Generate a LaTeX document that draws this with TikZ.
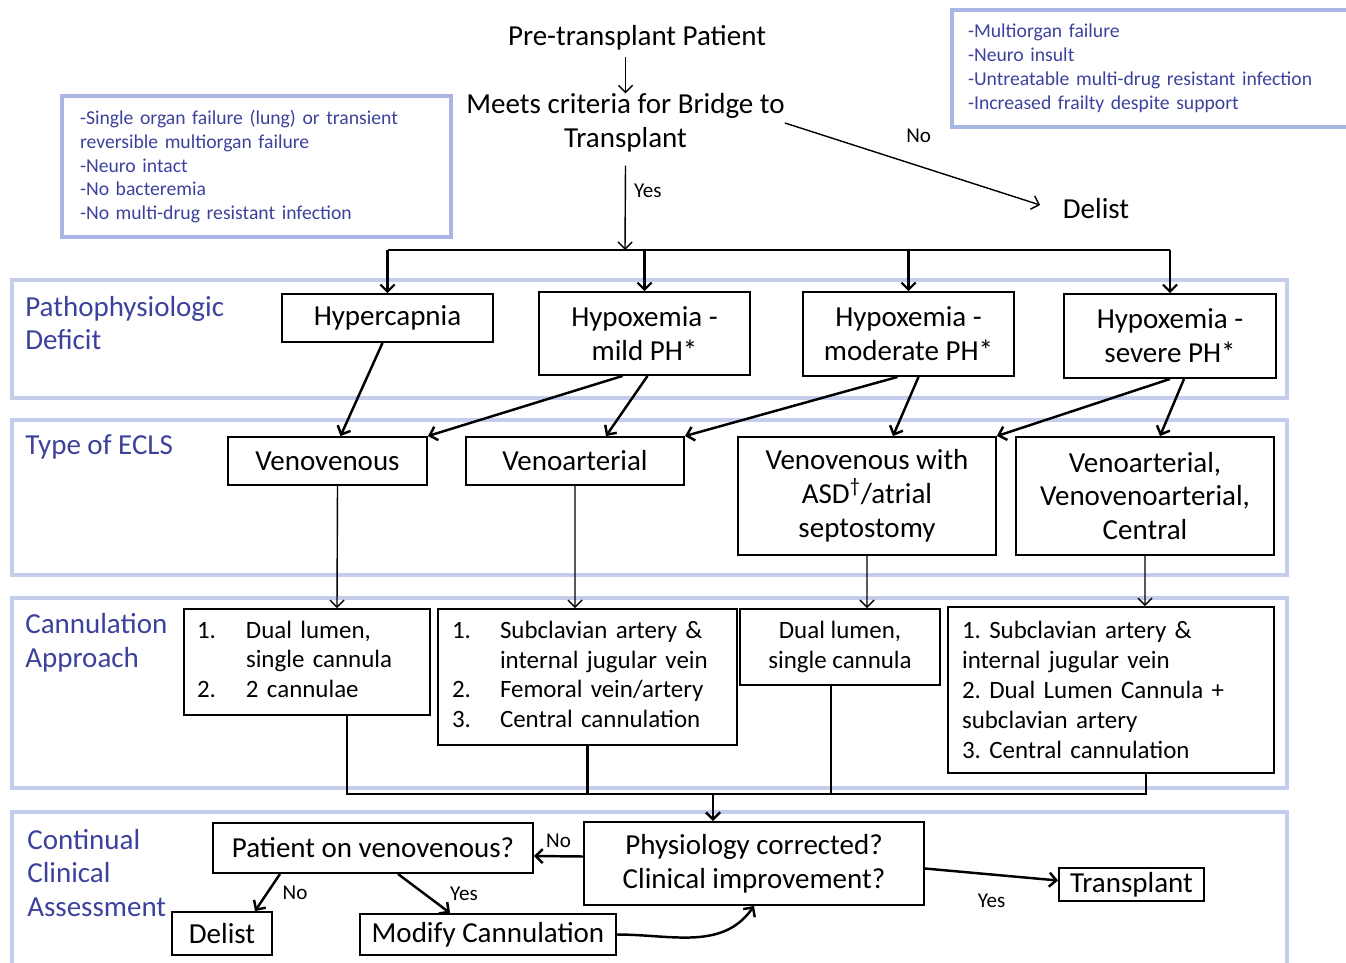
\documentclass[tikz,border=0pt]{standalone}
\usepackage{fontspec}
\setmainfont{Carlito}
\usetikzlibrary{arrows.meta}

\definecolor{bandblue}{HTML}{C5CDEC}
\definecolor{critblue}{HTML}{A9B6E4}
\definecolor{lblblue}{HTML}{3C429C}
\newcommand{\bigtxt}{\fontsize{16.5}{19.3}\selectfont}
\newcommand{\listtxt}{\fontsize{14.2}{17}\selectfont}
\newcommand{\smalltxt}{\fontsize{11.2}{13.6}\selectfont}
\newcommand{\yesno}{\fontsize{12}{14}\selectfont}
\frenchspacing

\begin{document}
\begin{tikzpicture}[x=0.02cm, y=-0.02cm, >={Straight Barb[length=4pt,width=8pt]}]

      \tikzset{box/.style={draw, line width=1.1pt, fill=white, inner sep=0pt, align=center, font=\bigtxt},
               band/.style={draw=bandblue, line width=1.8pt},
               crit/.style={draw=critblue, line width=2.4pt, text=lblblue, align=left, font=\smalltxt, inner ysep=0pt},
               lane/.style={anchor=west, text=lblblue, align=left, font=\bigtxt, inner sep=0pt},
               answer/.style={font=\yesno, inner sep=0pt},
               arr/.style={->, line width=1.4pt},
               slimarr/.style={->, line width=0.8pt}}
      \useasboundingbox (0,0) rectangle (1346,963);
%% Bands
      	\draw[band] (12,280) rectangle (1287,398);
      	\draw[band] (12,420) rectangle (1287,575);
      	\draw[band] (12,598) rectangle (1287,788);
      	\draw[band] (12,812) rectangle (1287,980);
      	\node[lane] (lpath) at (25,323) {Pathophysiologic\\Deficit};
      	\node[lane] (lecls) at (25,447) {Type of ECLS};
      	\node[lane] (lcann) at (25,643) {Cannulation\\Approach};
      	\node[lane] (lcca) at (27,873) {Continual\\Clinical\\Assessment};
%% Criteria
      	\node[crit, text width=7.06cm, inner xsep=0.36cm, minimum height=2.82cm] (critin) at (256.5,166.5) {-Single organ failure (lung) or transient\\reversible multiorgan failure\\-Neuro intact\\-No bacteremia\\-No multi-drug resistant infection};
      	\node[crit, text width=7.36cm, inner xsep=0.32cm, minimum height=2.34cm] (critout) at (1152,68.5) {-Multiorgan failure\\-Neuro insult\\-Untreatable multi-drug resistant infection\\-Increased frailty despite support};
%% Top
      	\node[font=\bigtxt] (pre) at (637,38) {Pre-transplant Patient};
      	\node[font=\bigtxt, align=center, inner sep=0pt] (meets) at (625.5,123) {Meets criteria for Bridge to\\Transplant};
      	\node[font=\bigtxt, inner sep=0.2cm] (delista) at (1096,209) {Delist};
      	\coordinate (split) at (625,250);
%% Deficit
      	\node[box, minimum width=4.22cm, minimum height=0.96cm] (hyper) at (387.5,318) {Hypercapnia};
      	\node[box, minimum width=4.22cm, minimum height=1.66cm] (mild) at (644.5,333.5) {Hypoxemia -\\mild PH*};
      	\node[box, minimum width=4.22cm, minimum height=1.68cm] (moder) at (908.5,334) {Hypoxemia -\\moderate PH*};
      	\node[box, minimum width=4.24cm, minimum height=1.68cm] (severe) at (1170,336) {Hypoxemia -\\severe PH*};
%% ECLS
      	\node[box, minimum width=3.98cm, minimum height=0.96cm] (vv) at (327.5,461) {Venovenous};
      	\node[box, minimum width=4.36cm, minimum height=0.96cm] (va) at (575,461) {Venoarterial};
      	\node[box, minimum width=5.16cm, minimum height=2.36cm] (vvasd) at (867,496) {Venovenous with\\ASD\textsuperscript{†}/atrial\\septostomy};
      	\node[box, minimum width=5.16cm, minimum height=2.36cm] (vacent) at (1145,496) {Venoarterial,\\Venovenoarterial,\\Central};
%% Cannulation
      	\node[box, font=\listtxt, text width=4.4cm, inner xsep=0.26cm, minimum height=2.12cm, align=left] (lista) at (307,662) {\noindent\begin{tabular}{@{}p{0.98cm}@{}l@{}}1. & Dual lumen,\\ & single cannula\\ 2. & 2 cannulae\end{tabular}};
      	\node[box, font=\listtxt, text width=5.42cm, inner xsep=0.28cm, minimum height=2.72cm, align=left] (listb) at (587.5,677) {\noindent\begin{tabular}{@{}p{0.96cm}@{}l@{}}1. & Subclavian artery \&\\ & internal jugular vein\\ 2. & Femoral vein/artery\\ 3. & Central cannulation\end{tabular}};
      	\node[box, font=\listtxt, minimum width=4.0cm, minimum height=1.52cm] (listc) at (840,647) {Dual lumen,\\single cannula};
      	\node[box, font=\listtxt, text width=5.96cm, inner xsep=0.28cm, minimum height=3.32cm, align=left] (listd) at (1111,690) {1. Subclavian artery \&\\internal jugular vein\\2. Dual Lumen Cannula +\\subclavian artery\\3. Central cannulation};
      	\coordinate (merge) at (713,794);
%% Assessment
      	\node[box, minimum width=6.8cm, minimum height=1.66cm] (physio) at (754,863.5) {Physiology corrected?\\Clinical improvement?};
      	\node[box, minimum width=6.4cm, minimum height=1.0cm] (onvv) at (373,848) {Patient on venovenous?};
      	\node[box, minimum width=2.0cm, minimum height=0.86cm] (delistb) at (222,933.5) {Delist};
      	\node[box, minimum width=5.12cm, minimum height=0.82cm] (modify) at (488,934.5) {Modify Cannulation};
      	\node[box, minimum width=2.9cm, minimum height=0.66cm] (transpl) at (1131.5,884.5) {Transplant};
%Edges
		\path (pre.south -| meets.north) edge[slimarr] (meets.north);
		\path ([yshift=-0.26cm]meets.south) edge[slimarr] node[answer, pos=0.3, right=0.16cm] {Yes} (split);
		\path (meets.east) edge[slimarr, shorten >=0.26cm] node[answer, midway, above=0.45cm] {No} (delista.west);
		\draw[line width=1.2pt] (hyper.north |- split) -- (severe.north |- split);
		\foreach \n in {hyper, mild, moder, severe}
			\path (\n.north |- split) edge[slimarr, line width=1.2pt] (\n.north);
		\path ([xshift=-0.1cm]hyper.south) edge[arr] ([xshift=0.26cm]vv.north);
		\path ([xshift=-0.44cm]mild.south) edge[arr] (vv.north east);
		\path ([xshift=0.06cm]mild.south) edge[arr] ([xshift=0.62cm]va.north);
		\path ([xshift=-0.22cm]moder.south) edge[arr] (va.north east);
		\path ([xshift=0.2cm]moder.south) edge[arr] ([xshift=0.52cm]vvasd.north);
		\path (severe.south) edge[arr] (vvasd.north east);
		\path ([xshift=0.28cm]severe.south) edge[arr] ([xshift=0.3cm]vacent.north);
		\path ([xshift=0.2cm]vv.south) edge[slimarr] ([xshift=0.6cm]lista.north);
		\path (va.south) edge[slimarr] ([xshift=-0.25cm]listb.north);
		\path (vvasd.south) edge[slimarr] ([xshift=0.54cm]listc.north);
		\path (vacent.south) edge[slimarr] ([xshift=0.68cm]listd.north);
		\draw[line width=1.4pt] ([xshift=0.8cm]lista.south) |- ([xshift=0.7cm]listd.south |- merge) -- ([xshift=0.7cm]listd.south);
		\draw[line width=1.4pt] (listb.south) -- (listb.south |- merge);
		\draw[line width=1.4pt] ([xshift=-0.18cm]listc.south) -- ([xshift=-0.18cm]listc.south |- merge);
		\path (merge) edge[arr] (merge |- physio.north);
		\path ([yshift=0.14cm]physio.west) edge[arr] node[answer, midway, above=0.14cm] {No} ([yshift=-0.16cm]onvv.east);
		\path ([xshift=-1.86cm]onvv.south) edge[arr] node[answer, midway, right=0.28cm] {No} ([xshift=0.66cm]delistb.north);
		\path ([xshift=0.5cm]onvv.south) edge[arr] node[answer, midway, right=0.5cm] {Yes} ([xshift=-0.76cm]modify.north);
		\path (modify.east) edge[arr, out=0, in=235] (physio.south);
		\path ([yshift=-0.1cm]physio.east) edge[arr] node[answer, midway, below=0.36cm] {Yes} ([yshift=0.08cm]transpl.west);

	\end{tikzpicture}
\end{document}
